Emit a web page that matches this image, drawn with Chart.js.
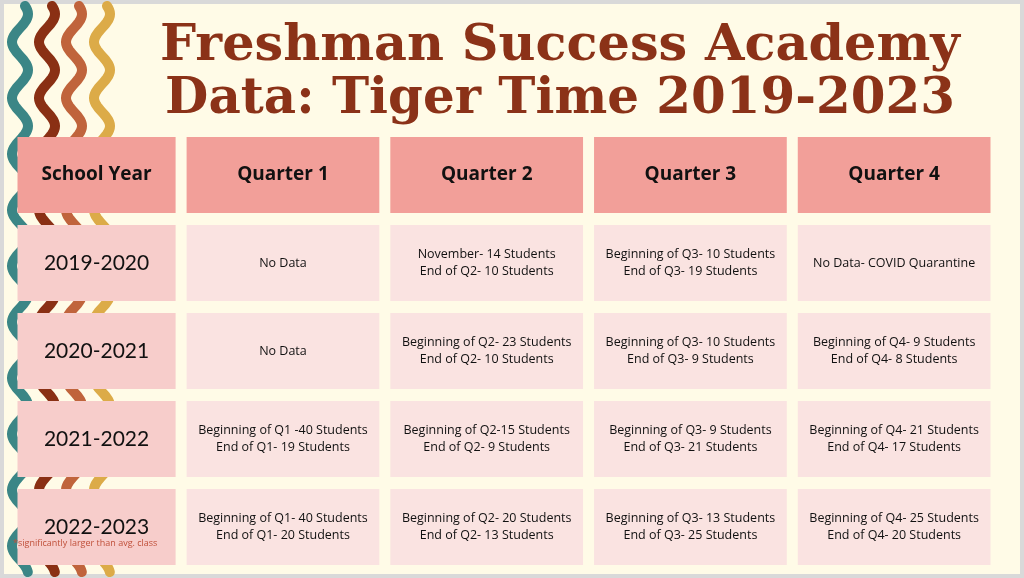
<!DOCTYPE html>
<html>
<head>
<meta charset="utf-8">
<script src="https://cdn.jsdelivr.net/npm/chart.js@4.4.0/dist/chart.umd.min.js"></script>
<style>
  html, body { margin: 0; padding: 0; background: #e9e9e9; }
  #wrap { width: 1024px; height: 578px; }
</style>
</head>
<body>
<div id="wrap"><canvas id="tiger" width="1024" height="578"></canvas></div>
<script>
const titleLines = ['Freshman Success Academy', 'Data: Tiger Time 2019-2023'];
const columns = ['School Year', 'Quarter 1', 'Quarter 2', 'Quarter 3', 'Quarter 4'];
const years = ['2019-2020', '2020-2021', '2021-2022', '2022-2023'];
const quarter1 = [
    ['No Data'],
    ['No Data'],
    ['Beginning of Q1 -40 Students', 'End of Q1- 19 Students'],
    ['Beginning of Q1- 40 Students', 'End of Q1- 20 Students']
];
const quarter2 = [
    ['November- 14 Students', 'End of Q2- 10 Students'],
    ['Beginning of Q2- 23 Students', 'End of Q2- 10 Students'],
    ['Beginning of Q2-15 Students', 'End of Q2- 9 Students'],
    ['Beginning of Q2- 20 Students', 'End of Q2- 13 Students']
];
const quarter3 = [
    ['Beginning of Q3- 10 Students', 'End of Q3- 19 Students'],
    ['Beginning of Q3- 10 Students', 'End of Q3- 9 Students'],
    ['Beginning of Q3- 9 Students', 'End of Q3- 21 Students'],
    ['Beginning of Q3- 13 Students', 'End of Q3- 25 Students']
];
const quarter4 = [
    ['No Data- COVID Quarantine'],
    ['Beginning of Q4- 9 Students', 'End of Q4- 8 Students'],
    ['Beginning of Q4- 21 Students', 'End of Q4- 17 Students'],
    ['Beginning of Q4- 25 Students', 'End of Q4- 20 Students']
];
const footnote = '*significantly larger than avg. class';
const rowLabels = ['header'].concat(years);

const quarters = [quarter1, quarter2, quarter3, quarter4];
// the first column is a bit narrower than the quarter columns
const colWidth = [0.83, 1, 1, 1, 1];
const colStart = colWidth.map((w, i) => colWidth.slice(0, i).reduce((a, b) => a + b, 0));
const totalWidth = colWidth.reduce((a, b) => a + b, 0);

const tablePlugin = {
    id: 'tablePlugin',
    beforeDraw(chart) {
        const ctx = chart.ctx;
        ctx.save();
        ctx.fillStyle = '#fffbe7';
        ctx.fillRect(0, 0, chart.width, chart.height);
        ctx.strokeStyle = '#d9d9d9';
        ctx.lineWidth = 4;
        ctx.strokeRect(2, 2, chart.width - 4, chart.height - 4);

        // wavy stripes on the left
        const stripes = [[20, '#3b8686'], [47, '#8a3014'], [74, '#c0643c'], [102, '#dcab48']];
        ctx.lineWidth = 10;
        ctx.lineCap = 'round';
        stripes.forEach(([cx, col]) => {
            ctx.strokeStyle = col;
            ctx.beginPath();
            for (let y = 6; y <= 572; y += 2) {
                const x = cx + 8 * Math.sin(y / 56 * Math.PI * 2);
                if (y === 6) ctx.moveTo(x, y); else ctx.lineTo(x, y);
            }
            ctx.stroke();
        });

        // title
        ctx.fillStyle = '#8b3218';
        ctx.textAlign = 'center';
        ctx.textBaseline = 'alphabetic';
        titleLines.forEach((t, i) => {
            let size = 54;
            ctx.font = `bold ${size}px "DejaVu Serif"`;
            const w = ctx.measureText(t).width;
            size = size * (i === 0 ? 800 : 790) / w;
            ctx.font = `bold ${size}px "DejaVu Serif"`;
            ctx.fillText(t, 560, 60 + i * 53);
        });
        ctx.restore();
    },
    afterDatasetsDraw(chart) {
        const ctx = chart.ctx;
        const xs = chart.scales.x, ys = chart.scales.y;
        const ch = ys.height / rowLabels.length;
        const gapX = 11, gapY = 12;
        ctx.save();
        ctx.textAlign = 'center';
        ctx.textBaseline = 'middle';
        rowLabels.forEach((r, ri) => {
            const cy = ys.getPixelForValue(ri);
            columns.forEach((c, ci) => {
                const xl = xs.getPixelForValue(colStart[ci]);
                const xr = xs.getPixelForValue(colStart[ci] + colWidth[ci]);
                const cx = (xl + xr) / 2;
                const x0 = xl + gapX / 2, y0 = cy - ch / 2 + gapY / 2;
                const w = xr - xl - gapX, h = ch - gapY;
                ctx.fillStyle = ri === 0 ? '#f29f99' : (ci === 0 ? '#f7cdcb' : '#fae3e1');
                ctx.fillRect(x0, y0, w, h);
                ctx.fillStyle = '#111';
                if (ri === 0) {
                    ctx.font = 'bold 19px "Open Sans"';
                    ctx.fillText(c, cx, cy);
                } else if (ci === 0) {
                    ctx.font = '21px Lato';
                    ctx.fillText(r, cx, cy);
                } else {
                    const lines = quarters[ci - 1][ri - 1];
                    ctx.font = '12.5px "Open Sans"';
                    lines.forEach((l, li) => {
                        ctx.fillText(l, cx, cy + (li - (lines.length - 1) / 2) * 17);
                    });
                }
            });
        });
        ctx.fillStyle = '#c0503a';
        ctx.font = '9px "Open Sans"';
        ctx.textAlign = 'left';
        ctx.fillText(footnote, xs.left + 1, ys.getPixelForValue(rowLabels.length - 1) + 16);
        ctx.restore();
    }
};

new Chart(document.getElementById('tiger').getContext('2d'), {
    type: 'scatter',
    data: { datasets: [{ data: [], showLine: false }] },
    options: {
        responsive: false,
        animation: false,
        layout: { padding: { left: 12, right: 28, top: 131, bottom: 7 } },
        scales: {
            x: { type: 'linear', min: 0, max: totalWidth, display: false },
            y: { type: 'category', labels: rowLabels, offset: true, display: false }
        },
        plugins: { legend: { display: false }, tooltip: { enabled: false } }
    },
    plugins: [tablePlugin]
});
</script>
</body>
</html>
